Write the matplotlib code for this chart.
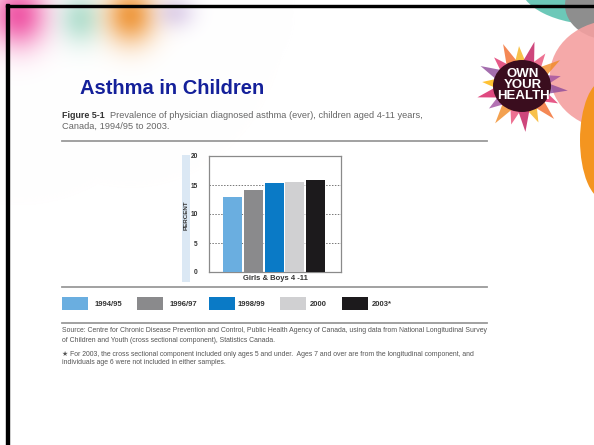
import numpy as np
import matplotlib.pyplot as plt
from matplotlib.patches import Rectangle, Ellipse, Polygon

# data
years = ["1994/95", "1996/97", "1998/99", "2000", "2003*"]
prevalence = [13.0, 14.1, 15.3, 15.6, 15.9]
bar_colors = ["#6aaee0", "#8a8a8c", "#0a7ac6", "#d0d0d2", "#1c1a1c"]
yticks = [0, 5, 10, 15, 20]

W, H = 594, 445
plt.rcParams['font.family'] = ['Liberation Sans', 'DejaVu Sans']
fig = plt.figure(figsize=(W / 100, H / 100), dpi=100)


def fx(x):
    return x / W


def fy(y):
    return 1 - y / H


# blurry colour wash at top left
bg = fig.add_axes([0, 0, 1, 1], zorder=-5)
bg.axis("off")
yy, xx = np.mgrid[0:H, 0:W]
img = np.ones((H, W, 3))
blobs = [(18, 15, 20, 22, (0.93, 0.25, 0.60), 0.85),
         (80, 18, 15, 18, (0.50, 0.80, 0.70), 0.55),
         (130, 15, 18, 20, (0.93, 0.55, 0.15), 0.85),
         (175, 12, 14, 12, (0.75, 0.65, 0.85), 0.45)]
for bx, by, sx, sy, col, a in blobs:
    alpha = a * np.exp(-((xx - bx) ** 2 / (2 * sx ** 2) + (yy - by) ** 2 / (2 * sy ** 2)))
    for k in range(3):
        img[:, :, k] = img[:, :, k] * (1 - alpha) + col[k] * alpha
img = np.clip(img, 0, 1)
bg.imshow(img, extent=[0, W, H, 0], aspect="auto", interpolation="nearest")
bg.set_xlim(0, W)
bg.set_ylim(H, 0)

# right side shapes
fig.patches.append(Ellipse((fx(600), fy(-15)), 160 / W, 80 / H, color="#6cc8b8", lw=0, transform=fig.transFigure))
fig.patches.append(Ellipse((fx(610), fy(5)), 90 / W, 70 / H, color="#8e8e8e", lw=0, transform=fig.transFigure))
fig.patches.append(Ellipse((fx(615), fy(75)), 130 / W, 110 / H, color="#f4a0a0", alpha=0.9, lw=0,
                           transform=fig.transFigure))
fig.patches.append(Ellipse((fx(605), fy(140)), 50 / W, 120 / H, color="#f49520", lw=0, transform=fig.transFigure))

# logo burst
cx, cy = 522, 86
petal_cols = ["#8e4a9a", "#e0306a", "#f26a2a", "#f7b21e", "#c2185b", "#e94e77", "#f08a24", "#a04fa0",
              "#d81b60", "#ffb300"]
n = 18
for i in range(n):
    ang = 2 * np.pi * i / n + 0.1
    r1 = 46 if i % 2 == 0 else 40
    r2 = 18
    tip = (cx + r1 * np.cos(ang), cy + r1 * np.sin(ang))
    b1 = (cx + r2 * np.cos(ang - 0.45), cy + r2 * np.sin(ang - 0.45))
    b2 = (cx + r2 * np.cos(ang + 0.45), cy + r2 * np.sin(ang + 0.45))
    pts = [(fx(p[0]), fy(p[1])) for p in (b1, tip, b2)]
    fig.patches.append(Polygon(pts, closed=True, color=petal_cols[i % len(petal_cols)], alpha=0.8, lw=0,
                               transform=fig.transFigure))
fig.patches.append(Ellipse((fx(cx), fy(cy)), 58 / W, 52 / H, color="#3a0d1e", lw=0, transform=fig.transFigure))
fig.text(fx(cx + 1), fy(cy - 1), "OWN\nYOUR\nHEALTH", color="white", fontsize=9.5, fontweight="bold",
         ha="center", va="center", linespacing=0.9)

# slide frame
fig.patches.append(Rectangle((fx(6), fy(445)), 3 / W, 441 / H, color="black", transform=fig.transFigure))
fig.patches.append(Rectangle((fx(6), fy(7)), 588 / W, 2 / H, color="black", transform=fig.transFigure))

# title
fig.text(fx(80), fy(88), "Asthma in Children", color="#14209a", fontsize=14.5, fontweight="bold", va="center")

# figure caption
fig.text(fx(62), fy(116), "Figure 5-1", fontsize=6.4, fontweight="bold", color="#333333", va="center")
fig.text(fx(110), fy(116), "Prevalence of physician diagnosed asthma (ever), children aged 4-11 years,",
         fontsize=6.7, color="#666666", va="center")
fig.text(fx(62), fy(126), "Canada, 1994/95 to 2003.", fontsize=6.7, color="#666666", va="center")

# rules
for ry in (141, 287, 323):
    fig.add_artist(plt.Line2D([fx(62), fx(487)], [fy(ry), fy(ry)], color="#9a9a9a", lw=1.3))

# percent band
fig.patches.append(Rectangle((fx(182), fy(282)), 8 / W, 127 / H, color="#dbe8f4", lw=0,
                             transform=fig.transFigure))

# chart
ax = fig.add_axes([fx(209), fy(272), 132 / W, 116 / H])
x = np.arange(len(years))
ax.bar(x, prevalence, width=0.92, color=bar_colors, zorder=3)
ax.set_xlim(-1.14, 5.22)
ax.set_ylim(0, 20)
ax.set_yticks(yticks)
ax.set_yticklabels([str(t) for t in yticks], fontsize=4.8, fontweight="bold", color="#333333")
ax.set_xticks([])
ax.tick_params(axis="y", length=0, pad=8)
for t in yticks[1:-1]:
    ax.axhline(t, color="#777777", lw=0.7, ls=(0, (1.5, 1.5)), zorder=1)
for s in ax.spines.values():
    s.set_color("#8a8a8a")
    s.set_linewidth(0.9)
ax.set_xlabel("Girls & Boys 4 -11", fontsize=5.5, fontweight="bold", color="#333333", labelpad=2)
fig.text(fx(186), fy(215), "PERCENT", rotation=90, fontsize=4.5, fontweight="bold", color="#333333",
         ha="center", va="center")

# legend
sw_x = [62, 137, 209, 280, 342]
lb_x = [95, 170, 238, 310, 372]
for i in range(len(years)):
    fig.patches.append(Rectangle((fx(sw_x[i]), fy(310)), 26 / W, 13 / H, color=bar_colors[i], lw=0,
                                 transform=fig.transFigure))
    fig.text(fx(lb_x[i]), fy(304), years[i], fontsize=5.5, fontweight="bold", color="#333333", va="center")

# source and footnote
fs = 4.95
fig.text(fx(62), fy(331), "Source: Centre for Chronic Disease Prevention and Control, Public Health Agency of Canada, "
         "using data from National Longitudinal Survey", fontsize=fs, color="#555555", va="center")
fig.text(fx(62), fy(340), "of Children and Youth (cross sectional component), Statistics Canada.",
         fontsize=fs, color="#555555", va="center")
fig.text(fx(62), fy(354), "\u2605 For 2003, the cross sectional component included only ages 5 and under.  "
         "Ages 7 and over are from the longitudinal component, and", fontsize=fs, color="#555555", va="center")
fig.text(fx(62), fy(363), "individuals age 6 were not included in either samples.",
         fontsize=fs, color="#555555", va="center")

fig.savefig("out.png", dpi=100)
